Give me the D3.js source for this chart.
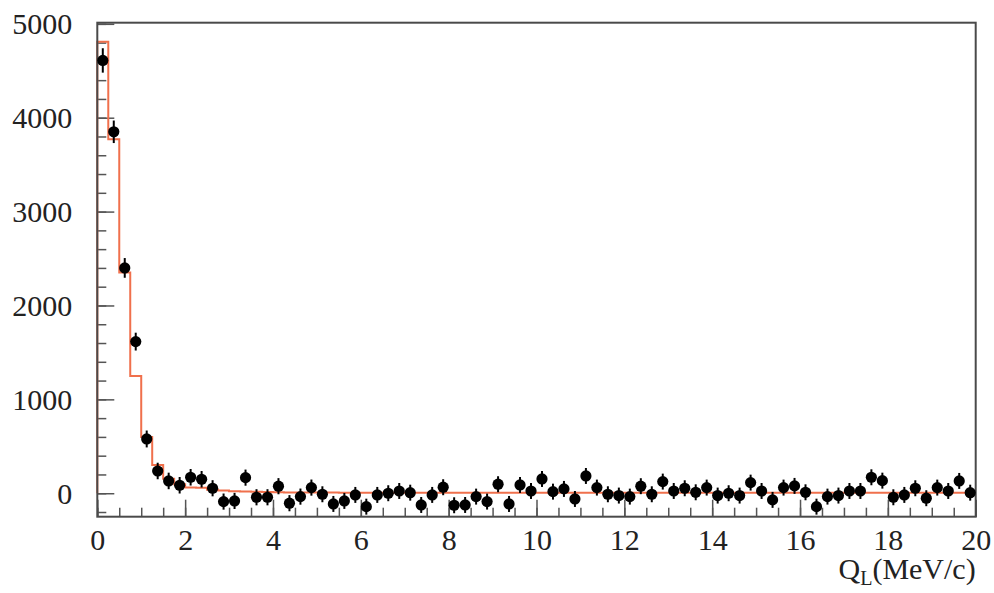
<!DOCTYPE html>
<html>
<head>
<meta charset="utf-8">
<script src="https://cdn.jsdelivr.net/npm/d3@7"></script>
<style>
  body { margin: 0; background: #fff; }
  text { font-family: "Liberation Serif", "DejaVu Serif", serif; fill: #222; }
</style>
</head>
<body>
<script>

  // Q_L histogram, 80 bins of 0.25 MeV/c from 0 to 20

  var binWidth = 0.25;

  var counts = [4610, 3850, 2400, 1615, 578, 237, 131, 85, 170, 149,
    53, -89, -82, 166, -43, -43, 75, -106, -36, 60,
    -11, -114, -82, -18, -143, -18, 0, 24, 6, -125,
    -18, 64, -128, -125, -36, -89, 96, -114, 88, 24,
    152, 17, 46, -61, 184, 60, -11, -25, -36, 75,
    -11, 124, 24, 53, 10, 60, -25, 0, -25, 113,
    24, -71, 60, 78, 10, -143, -36, -25, 24, 24,
    170, 134, -43, -18, 53, -53, 60, 24, 131, 6];

  // error bar half sizes
  var errors = [130, 120, 105, 95, 90, 88, 88, 88, 88, 88,
    86, 86, 86, 86, 86, 86, 86, 86, 86, 86,
    85, 85, 85, 85, 85, 85, 85, 85, 85, 85,
    85, 85, 85, 85, 85, 85, 85, 85, 85, 85,
    85, 85, 85, 85, 85, 85, 85, 85, 85, 85,
    85, 85, 85, 85, 85, 85, 85, 85, 85, 85,
    85, 85, 85, 85, 85, 85, 85, 85, 85, 85,
    85, 85, 85, 85, 85, 85, 85, 85, 85, 85];

  // fitted histogram (orange steps)
  var fit = [4810, 3770, 2350, 1250, 600, 300, 155, 95, 62, 58,
    38, 28, 22, 18, 15, 12, 10, 9, 8, 8,
    7, 7, 6, 6, 6, 6, 6, 5, 5, 5,
    5, 5, 5, 5, 5, 5, 5, 5, 5, 5,
    5, 5, 5, 5, 5, 5, 5, 5, 5, 5,
    5, 5, 5, 5, 5, 5, 5, 5, 5, 5,
    5, 5, 5, 5, 5, 5, 5, 5, 5, 5,
    5, 5, 5, 5, 5, 5, 5, 5, 5, 5];

  var xMajor = [0, 2, 4, 6, 8, 10, 12, 14, 16, 18, 20];
  var yMajor = [0, 1000, 2000, 3000, 4000, 5000];

  var width = 994,
      height = 593,
      plotLeft = 97.3, plotRight = 975.7,
      plotTop = 22.7, plotBottom = 516.7;

  var svg = d3.select("body").append("svg")
    .attr("width", width)
    .attr("height", height);

  var x = d3.scaleLinear().domain([0, 20]).range([plotLeft, plotRight]);
  var y = d3.scaleLinear().domain([-250, 5012]).range([plotBottom, plotTop]);

  // minor ticks
  svg.append("g")
    .attr("transform", "translate(0," + plotBottom + ")")
    .call(d3.axisBottom(x).tickValues(d3.range(0, 20.01, 0.5)).tickSize(-9).tickFormat(""))
    .call(function(g) { g.select(".domain").remove(); })
    .selectAll("line").attr("stroke", "#555").attr("stroke-width", 1.5);

  svg.append("g")
    .attr("transform", "translate(" + plotLeft + ",0)")
    .call(d3.axisLeft(y).tickValues(d3.range(-200, 5001, 200)).tickSize(-9).tickFormat(""))
    .call(function(g) { g.select(".domain").remove(); })
    .selectAll("line").attr("stroke", "#555").attr("stroke-width", 1.5);

  // major ticks + labels
  var xAxis = svg.append("g")
    .attr("transform", "translate(0," + plotBottom + ")")
    .call(d3.axisBottom(x).tickValues(xMajor).tickSize(-17).tickPadding(0).tickFormat(d3.format("d")));
  xAxis.select(".domain").remove();
  xAxis.selectAll("line").attr("stroke", "#555").attr("stroke-width", 1.5);
  xAxis.selectAll("text")
    .attr("y", 33)
    .attr("dy", 0)
    .style("font-size", "30px")
    .style("font-family", "Liberation Serif")
    .attr("fill", "#222");

  var yAxis = svg.append("g")
    .attr("transform", "translate(" + plotLeft + ",0)")
    .call(d3.axisLeft(y).tickValues(yMajor).tickSize(-17).tickFormat(d3.format("d")));
  yAxis.select(".domain").remove();
  yAxis.selectAll("line").attr("stroke", "#555").attr("stroke-width", 1.5);
  yAxis.selectAll("text")
    .attr("x", -25)
    .attr("dy", "0.33em")
    .style("font-size", "30px")
    .style("font-family", "Liberation Serif")
    .attr("fill", "#222");

  // fitted step histogram
  var steps = [[0, 0]];
  fit.forEach(function(v, i) { steps.push([i * binWidth, v]); });
  steps.push([20, fit[fit.length - 1]]);

  var line = d3.line()
    .x(function(d) { return x(d[0]); })
    .y(function(d) { return y(d[1]); })
    .curve(d3.curveStepAfter);

  svg.append("path")
    .datum(steps)
    .attr("d", line)
    .attr("fill", "none")
    .attr("stroke", "#f0704c")
    .attr("stroke-width", 2);

  // frame
  svg.append("rect")
    .attr("x", plotLeft).attr("y", plotTop)
    .attr("width", plotRight - plotLeft).attr("height", plotBottom - plotTop)
    .attr("fill", "none")
    .attr("stroke", "#4a4a4a")
    .attr("stroke-width", 2);

  // data points with error bars
  var pts = svg.append("g").selectAll("g")
    .data(counts)
    .enter().append("g");

  pts.append("line")
    .attr("x1", function(d, i) { return x((i + 0.5) * binWidth); })
    .attr("x2", function(d, i) { return x((i + 0.5) * binWidth); })
    .attr("y1", function(d, i) { return y(d - errors[i]); })
    .attr("y2", function(d, i) { return y(d + errors[i]); })
    .attr("stroke", "#000")
    .attr("stroke-width", 2);

  pts.append("circle")
    .attr("cx", function(d, i) { return x((i + 0.5) * binWidth); })
    .attr("cy", function(d) { return y(d); })
    .attr("r", 5.6)
    .attr("fill", "#000");

  // axis title
  var title = svg.append("text")
    .attr("x", plotRight)
    .attr("y", 579)
    .attr("text-anchor", "end")
    .style("font-size", "30px");
  title.append("tspan").text("Q");
  title.append("tspan").attr("dy", 6).style("font-size", "20px").text("L");
  title.append("tspan").attr("dy", -6).text("(MeV/c)");

</script>
</body>
</html>
